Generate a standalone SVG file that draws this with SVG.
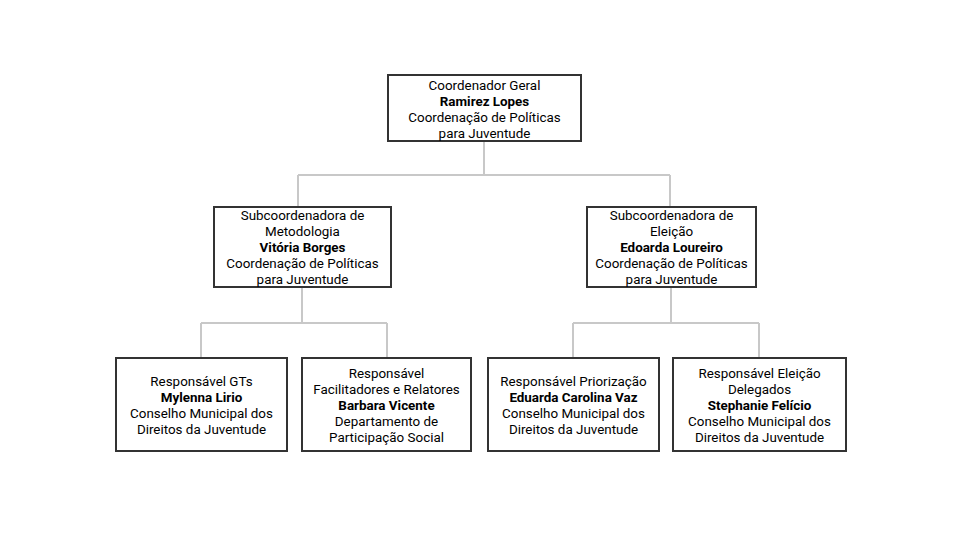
<svg xmlns="http://www.w3.org/2000/svg" width="960" height="540" viewBox="0 0 960 540">
<style>
.box{fill:#fff;stroke:#333;stroke-width:2}
.t{font-family:Roboto,"Liberation Sans",sans-serif;font-size:13.4px;fill:#000;text-anchor:middle}
.b{font-weight:bold}
.c{fill:none;stroke:#c8c8c8;stroke-width:2}
</style>
<rect width="960" height="540" fill="#fff"/>
<g id="connectors">
<path class="c" d="M484 141V175M298 175H670M298 175V207M670 175V207"/>
<path class="c" d="M302 287V323M201 323H387M201 323V358M387 323V358"/>
<path class="c" d="M671 287V323M573 323H759M573 323V358M759 323V358"/>
</g>
<g id="n0"><rect class="box" x="388" y="75" width="193" height="66"/>
<text class="t" x="484.5" y="90">Coordenador Geral</text>
<text class="t b" x="484.5" y="106">Ramirez Lopes</text>
<text class="t" x="484.5" y="122">Coordenação de Políticas</text>
<text class="t" x="484.5" y="138">para Juventude</text></g>
<g id="n1"><rect class="box" x="214" y="207" width="177" height="80"/>
<text class="t" x="302.5" y="220">Subcoordenadora de</text>
<text class="t" x="302.5" y="236">Metodologia</text>
<text class="t b" x="302.5" y="252">Vitória Borges</text>
<text class="t" x="302.5" y="268">Coordenação de Políticas</text>
<text class="t" x="302.5" y="284">para Juventude</text></g>
<g id="n2"><rect class="box" x="587" y="207" width="169" height="80"/>
<text class="t" x="671.5" y="220">Subcoordenadora de</text>
<text class="t" x="671.5" y="236">Eleição</text>
<text class="t b" x="671.5" y="252">Edoarda Loureiro</text>
<text class="t" x="671.5" y="268">Coordenação de Políticas</text>
<text class="t" x="671.5" y="284">para Juventude</text></g>
<g id="n3"><rect class="box" x="116" y="358" width="171" height="93"/>
<text class="t" x="201.5" y="386">Responsável GTs</text>
<text class="t b" x="201.5" y="402">Mylenna Lirio</text>
<text class="t" x="201.5" y="418">Conselho Municipal dos</text>
<text class="t" x="201.5" y="434">Direitos da Juventude</text></g>
<g id="n4"><rect class="box" x="302" y="358" width="169" height="93"/>
<text class="t" x="386.5" y="378">Responsável</text>
<text class="t" x="386.5" y="394">Facilitadores e Relatores</text>
<text class="t b" x="386.5" y="410">Barbara Vicente</text>
<text class="t" x="386.5" y="426">Departamento de</text>
<text class="t" x="386.5" y="442">Participação Social</text></g>
<g id="n5"><rect class="box" x="488" y="358" width="171" height="93"/>
<text class="t" x="573.5" y="386">Responsável Priorização</text>
<text class="t b" x="573.5" y="402">Eduarda Carolina Vaz</text>
<text class="t" x="573.5" y="418">Conselho Municipal dos</text>
<text class="t" x="573.5" y="434">Direitos da Juventude</text></g>
<g id="n6"><rect class="box" x="673" y="358" width="173" height="93"/>
<text class="t" x="759.5" y="378">Responsável Eleição</text>
<text class="t" x="759.5" y="394">Delegados</text>
<text class="t b" x="759.5" y="410">Stephanie Felício</text>
<text class="t" x="759.5" y="426">Conselho Municipal dos</text>
<text class="t" x="759.5" y="442">Direitos da Juventude</text></g>
</svg>
